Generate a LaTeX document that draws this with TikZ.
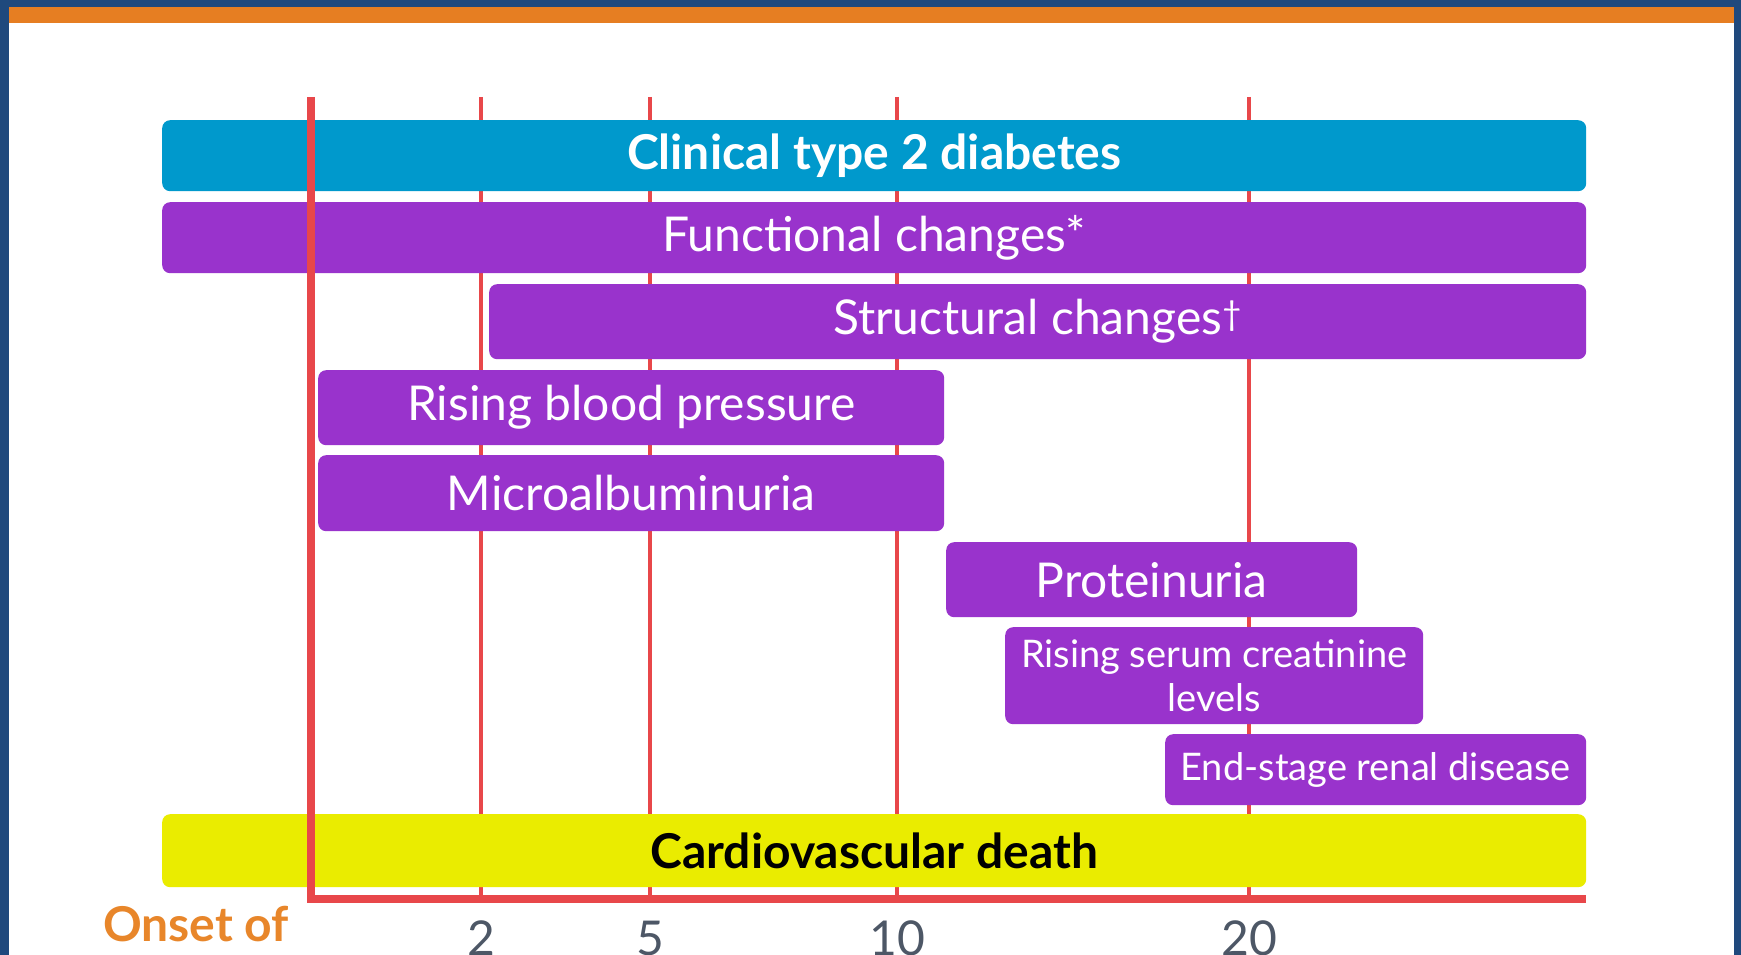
\documentclass[tikz,border=0pt]{standalone}
\usepackage{fontspec}
\setmainfont{Lato}
\usepackage{tikz}
\usetikzlibrary{positioning}
\definecolor{kdnavy}{HTML}{1F497D}
\definecolor{kdorange}{HTML}{E67E22}
\definecolor{kdcyan}{HTML}{0099CC}
\definecolor{kdpurple}{HTML}{9933CC}
\definecolor{kdyellow}{HTML}{EAEC00}
\definecolor{kdred}{HTML}{E8474A}
\definecolor{kdgray}{HTML}{4D5766}
\definecolor{kdonset}{HTML}{E8862A}

\begin{document}
\begin{tikzpicture}[x=1pt, y=-1pt,
  bar/.style={rounded corners=8pt, anchor=north west, inner sep=0pt, align=center,
    text=white, font=\fontsize{48}{56}\selectfont},
  smallbar/.style={bar, font=\fontsize{38}{44}\selectfont},
  tickline/.style={draw=kdred, line width=4pt},
  axisline/.style={draw=kdred, line width=8pt},
  yearlabel/.style={anchor=base, text=kdgray, font=\fontsize{48}{56}\selectfont}]
  \clip (0,0) rectangle (1741,955);
  % frame
  \fill[kdnavy] (0,0) rectangle (1741,955);
  \fill[white] (9,7) rectangle (1734,955);
  \fill[kdorange] (9,7) rectangle (1734,23);
  % year lines, behind the bars
  \foreach \yr/\xx in {2/481, 5/650, 10/897, 20/1249} {
    \draw[tickline] (\xx,97) -- (\xx,899);
    \node[yearlabel] (yr\yr) at (\xx,955) {\yr};
  }
  % stages
  \node[bar, fill=kdcyan, minimum width=1424pt, minimum height=71pt, font=\fontsize{48}{56}\selectfont\bfseries]
    (diab) at (162,120) {Clinical type 2 diabetes};
  \node[bar, fill=kdpurple, minimum width=1424pt, minimum height=71pt]
    (func) at (162,202) {Functional changes*};
  \node[bar, fill=kdpurple, minimum width=1097pt, minimum height=75pt]
    (struct) at (489,284) {Structural changes\textsuperscript{\textdagger}};
  \node[bar, fill=kdpurple, minimum width=626pt, minimum height=75pt]
    (bp) at (318,370) {Rising blood pressure};
  \node[bar, fill=kdpurple, minimum width=626pt, minimum height=76pt]
    (micro) at (318,455) {Microalbuminuria};
  \node[bar, fill=kdpurple, minimum width=411pt, minimum height=75pt]
    (prot) at (946,542) {Proteinuria};
  \node[smallbar, fill=kdpurple, minimum width=418pt, minimum height=97pt]
    (creat) at (1005,627) {Rising serum creatinine\\levels};
  \node[smallbar, fill=kdpurple, minimum width=421pt, minimum height=71pt]
    (esrd) at (1165,734) {End-stage renal disease};
  \node[bar, fill=kdyellow, minimum width=1424pt, minimum height=73pt, text=black, font=\fontsize{48}{56}\selectfont\bfseries]
    (cvd) at (162,814) {Cardiovascular death};
  % axis on top
  \draw[axisline] (311,97) -- (311,899) -- (1586,899);
  \node[anchor=base west, inner sep=0pt, text=kdonset, font=\fontsize{48}{56}\selectfont\bfseries]
    (onset) at (103,941) {Onset of};
\end{tikzpicture}
\end{document}
